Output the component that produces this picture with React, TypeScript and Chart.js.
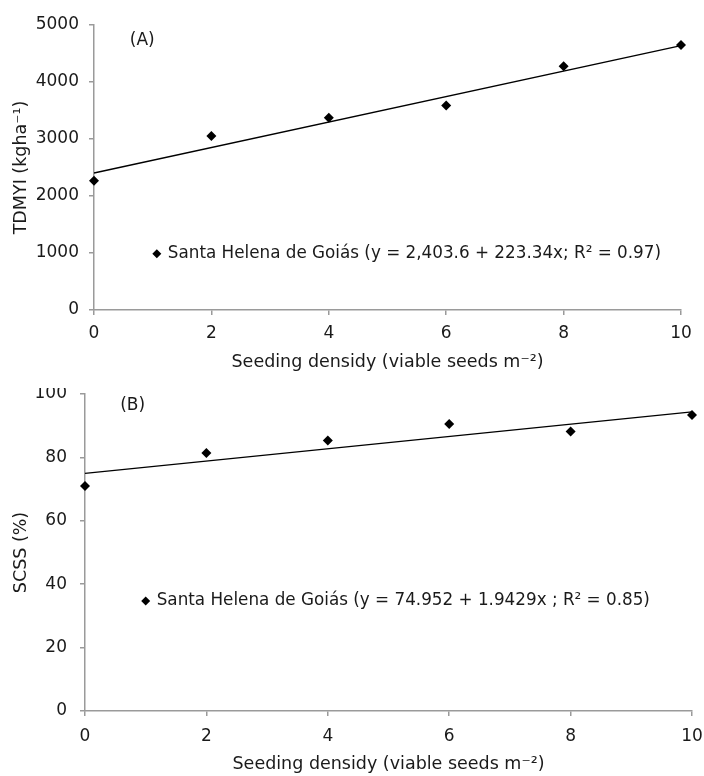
import React, { useEffect, useRef } from "react";
import { Chart, registerables } from "chart.js";

Chart.register(...registerables);

// ---------- data ----------
const densities = [0, 2, 4, 6, 8, 10];
const tdmyiValues = [2266, 3051, 3375, 3586, 4278, 4648];
const scssValues = [71.0, 81.4, 85.3, 90.5, 88.2, 93.4];
const trendX = [0, 10];
const tdmyiTrend = [2403.6, 4637.0];
const scssTrend = [74.952, 94.381];
const locationLabel = "Santa Helena de Goiás";
const equationA = "(y = 2,403.6 + 223.34x; R² = 0.97)";
const equationB = "(y = 74.952 + 1.9429x ; R² = 0.85)";
const xTitle = "Seeding densidy (viable seeds m⁻²)";
const yTitleA = "TDMYI (kgha⁻¹)";
const yTitleB = "SCSS (%)";
const panelA = "(A)";
const panelB = "(B)";

const FONT = "'DejaVu Sans', sans-serif";
const TEXT = "#1a1a1a";
const AXIS = "#9a9a9a";

const annotPlugin = {
  id: "annot",
  afterDatasetsDraw(chart: any, _args: any, opts: any) {
    const { ctx, scales } = chart;
    const x = scales.x;
    const y = scales.y;
    ctx.save();
    ctx.fillStyle = TEXT;
    ctx.textBaseline = "middle";
    ctx.textAlign = "left";
    ctx.font = `${opts.panelSize}px ${FONT}`;
    ctx.fillText(opts.panel, x.getPixelForValue(opts.panelX), y.getPixelForValue(opts.panelY));
    const lx = x.getPixelForValue(opts.legendX);
    const ly = y.getPixelForValue(opts.legendY);
    const r = 4.5;
    ctx.fillStyle = "#000";
    ctx.beginPath();
    ctx.moveTo(lx, ly - r);
    ctx.lineTo(lx + r, ly);
    ctx.lineTo(lx, ly + r);
    ctx.lineTo(lx - r, ly);
    ctx.closePath();
    ctx.fill();
    ctx.fillStyle = TEXT;
    ctx.font = `${opts.legendSize}px ${FONT}`;
    ctx.fillText(opts.legendText, lx + 11, ly);
    ctx.restore();
  },
};

type PanelCfg = {
  values: number[];
  trend: number[];
  yMax: number;
  yStep: number;
  yTitle: string;
  legendText: string;
  panel: string;
  panelX: number;
  panelY: number;
  legendX: number;
  legendY: number;
  padTop: number;
  padRight: number;
  yWidth: number;
  xHeight: number;
  xTickPad: number;
  yTickPad: number;
  xTitlePadBottom: number;
  yTitlePadTop: number;
};

function Panel({ cfg }: { cfg: PanelCfg }) {
  const ref = useRef<HTMLCanvasElement>(null);
  useEffect(() => {
    const tickFont = { family: FONT, size: 17 };
    const chart = new Chart(ref.current as HTMLCanvasElement, {
      type: "scatter",
      data: {
        datasets: [
          {
            label: "trend",
            data: trendX.map((x, i) => ({ x, y: cfg.trend[i] })),
            showLine: true,
            borderColor: "#000",
            borderWidth: 1.3,
            pointRadius: 0,
            clip: false as any,
          },
          {
            label: locationLabel,
            data: densities.map((x, i) => ({ x, y: cfg.values[i] })),
            showLine: false,
            pointStyle: "rectRot",
            pointRadius: 5,
            backgroundColor: "#000",
            borderColor: "#000",
            borderWidth: 0,
            clip: false as any,
          },
        ],
      },
      options: {
        responsive: false,
        animation: false,
        layout: { padding: { left: 0, right: cfg.padRight, top: cfg.padTop, bottom: 0 } },
        plugins: {
          legend: { display: false },
          tooltip: { enabled: false },
          annot: {
            panel: cfg.panel,
            panelX: cfg.panelX,
            panelY: cfg.panelY,
            panelSize: 17,
            legendX: cfg.legendX,
            legendY: cfg.legendY,
            legendText: `${locationLabel} ${cfg.legendText}`,
            legendSize: 16.8,
          },
        } as any,
        scales: {
          x: {
            type: "linear",
            min: 0,
            max: 10,
            ticks: {
              stepSize: 2,
              color: TEXT,
              font: tickFont,
              padding: cfg.xTickPad,
              callback: (v: any) => String(v),
            },
            grid: { drawOnChartArea: false, drawTicks: true, tickLength: 5, color: AXIS, lineWidth: 1.5 },
            border: { color: AXIS, width: 1.5 },
            title: {
              display: true,
              text: xTitle,
              color: TEXT,
              font: { family: FONT, size: 17.5 },
              padding: { top: 0, bottom: cfg.xTitlePadBottom },
            },
            afterFit: (s: any) => {
              s.height = cfg.xHeight;
              s.paddingLeft = 0;
              s.paddingRight = 0;
            },
          },
          y: {
            type: "linear",
            min: 0,
            max: cfg.yMax,
            ticks: {
              stepSize: cfg.yStep,
              color: TEXT,
              font: tickFont,
              padding: cfg.yTickPad,
              callback: (v: any) => String(v),
            },
            grid: { drawOnChartArea: false, drawTicks: true, tickLength: 5, color: AXIS, lineWidth: 1.5 },
            border: { color: AXIS, width: 1.5 },
            title: {
              display: true,
              text: cfg.yTitle,
              color: TEXT,
              font: { family: FONT, size: 17.5 },
              padding: { top: cfg.yTitlePadTop, bottom: 0 },
            },
            afterFit: (s: any) => {
              s.width = cfg.yWidth;
              s.paddingTop = 0;
              s.paddingBottom = 0;
            },
          },
        },
      },
      plugins: [annotPlugin],
    });
    return () => chart.destroy();
  }, []);
  return <canvas ref={ref} width={704} height={388} style={{ display: "block" }} />;
}

const cfgA: PanelCfg = {
  values: tdmyiValues,
  trend: tdmyiTrend,
  yMax: 5000,
  yStep: 1000,
  yTitle: yTitleA,
  legendText: equationA,
  panel: panelA,
  panelX: 0.61,
  panelY: 4720,
  legendX: 1.07,
  legendY: 985,
  padTop: 25,
  padRight: 23,
  yWidth: 94,
  xHeight: 78,
  xTickPad: 8,
  yTickPad: 10,
  xTitlePadBottom: 15,
  yTitlePadTop: 11,
};

const cfgB: PanelCfg = {
  values: scssValues,
  trend: scssTrend,
  yMax: 100,
  yStep: 20,
  yTitle: yTitleB,
  legendText: equationB,
  panel: panelB,
  panelX: 0.58,
  panelY: 96.5,
  legendX: 1.0,
  legendY: 34.7,
  padTop: 6,
  padRight: 12,
  yWidth: 85,
  xHeight: 65,
  xTickPad: 10,
  yTickPad: 13,
  xTitlePadBottom: 1,
  yTitlePadTop: 11,
};

export default function App() {
  return (
    <div style={{ position: "absolute", left: 0, top: 0, width: 704, height: 776, background: "#fff" }}>
      <Panel cfg={cfgA} />
      <Panel cfg={cfgB} />
    </div>
  );
}
